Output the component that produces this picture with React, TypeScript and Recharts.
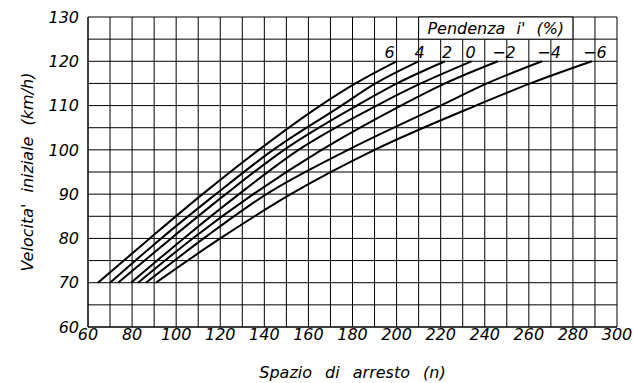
import React from "react";
import {
  LineChart,
  Line,
  XAxis,
  YAxis,
  CartesianGrid,
  ReferenceArea,
} from "recharts";

// velocita' iniziale (km/h)
const speeds = [70, 80, 90, 100, 110, 115, 120];

// spazio di arresto (m) per pendenza i (%)
const stopP6 = [64.5, 88, 112, 137.5, 165.4, 181.3, 200];
const stopP4 = [70, 93.2, 118, 144, 175, 190.4, 210];
const stopP2 = [73.6, 97.7, 122.5, 149, 182, 200.2, 222];
const stop0 = [79.5, 103.4, 128.5, 155.5, 191, 211, 234];
const stopM2 = [82.7, 107.5, 135, 166, 202, 222, 246];
const stopM4 = [86.3, 112.5, 141, 178, 220, 241, 266];
const stopM6 = [90.8, 120, 152, 190, 236, 260.7, 288.6];

const slopeLabels = ["6", "4", "2", "0", "\u22122", "\u22124", "\u22126"];
const slopeStops = [stopP6, stopP4, stopP2, stop0, stopM2, stopM4, stopM6];

const xTicks = [60, 70, 80, 90, 100, 110, 120, 130, 140, 150, 160, 170, 180, 190, 200, 210, 220, 230, 240, 250, 260, 270, 280, 290, 300];
const yTicks = [60, 65, 70, 75, 80, 85, 90, 95, 100, 105, 110, 115, 120, 125, 130];

// small horizontal nudges of the slope labels above the curve ends
const labelShift = [-7, 1, 2, -1, 6, 7, 3];

const FONT = "'DejaVu Sans', sans-serif";

const tickStyle = {
  fill: "#000",
  fontSize: 16,
  fontFamily: FONT,
  fontStyle: "italic",
};

export default function App() {
  const series = slopeStops.map((stops, k) => ({
    name: slopeLabels[k],
    shift: labelShift[k],
    points: stops.map((s, i) => ({ s, v: speeds[i] })),
  }));

  return (
    <div style={{ position: "absolute", left: 0, top: 0, background: "#fff" }}>
      <LineChart
        width={633}
        height={383}
        margin={{ top: 17, right: 16, bottom: 0, left: 0 }}
      >
        <CartesianGrid stroke="#000" strokeWidth={1} />
        <XAxis
          type="number"
          dataKey="s"
          domain={[60, 300]}
          ticks={xTicks}
          interval={0}
          tickFormatter={(v) => (v % 20 === 0 ? String(v) : "")}
          tick={tickStyle}
          tickLine={false}
          tickSize={0}
          tickMargin={2}
          axisLine={{ stroke: "#000" }}
          height={56}
          label={{
            value: "Spazio di arresto (n)",
            position: "center",
            dy: 17,
            style: { ...tickStyle, wordSpacing: 8 },
          }}
        />
        <YAxis
          type="number"
          dataKey="v"
          domain={[60, 130]}
          ticks={yTicks}
          interval={0}
          tickFormatter={(v) => (v % 10 === 0 ? String(v) : "")}
          tick={tickStyle}
          tickLine={false}
          tickSize={0}
          tickMargin={9}
          axisLine={{ stroke: "#000" }}
          width={88}
          label={{
            value: "Velocita' iniziale (km/h)",
            angle: -90,
            position: "center",
            dx: -17,
            style: { ...tickStyle, wordSpacing: 6 },
          }}
        />
        <ReferenceArea
          x1={210}
          x2={280}
          y1={125}
          y2={130}
          fill="#fff"
          fillOpacity={1}
          stroke="#000"
          strokeWidth={1}
          label={{
            value: "Pendenza i' (%)",
            position: "center",
            style: { ...tickStyle, wordSpacing: 6 },
          }}
        />
        {series.map((ser) => (
          <Line
            key={ser.name}
            data={ser.points}
            dataKey="v"
            type="monotone"
            stroke="#000"
            strokeWidth={2}
            dot={false}
            activeDot={false}
            isAnimationActive={false}
            label={(p: any) =>
              p.index === ser.points.length - 1 ? (
                <text
                  key={`lbl-${ser.name}`}
                  x={p.x + ser.shift}
                  y={p.y - 3}
                  textAnchor="middle"
                  style={tickStyle}
                >
                  {ser.name}
                </text>
              ) : (
                <g key={`lbl-${ser.name}-${p.index}`} />
              )
            }
          />
        ))}
      </LineChart>
    </div>
  );
}
